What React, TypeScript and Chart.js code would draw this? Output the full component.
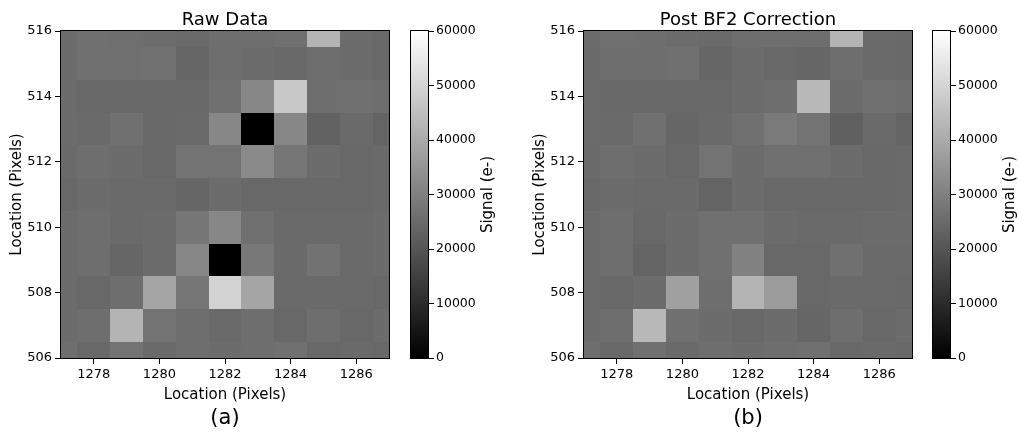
import React, { useEffect, useRef } from "react";
import { Chart, registerables } from "chart.js";

Chart.register(...registerables);

const FONT = '"DejaVu Sans", "Liberation Sans", sans-serif';

// pixel centres (columns left→right, rows top→bottom)
const xPixels = [1277, 1278, 1279, 1280, 1281, 1282, 1283, 1284, 1285, 1286, 1287];
const yPixels = [516, 515, 514, 513, 512, 511, 510, 509, 508, 507, 506];

// Signal (e-), rows 516 → 506
const rawSignal: number[][] = [
  [25400, 26400, 25900, 25400, 24900, 25900, 25900, 26400, 42400, 25400, 24500],
  [25400, 26400, 26100, 26600, 24000, 25900, 25400, 24700, 25900, 25400, 24500],
  [25400, 24500, 24500, 24500, 24500, 26400, 31800, 47100, 25900, 26400, 25900],
  [25400, 24900, 26400, 24500, 24900, 31800, 0, 31800, 23100, 24900, 23500],
  [24900, 25900, 25400, 24500, 27100, 27100, 32500, 27800, 25400, 24500, 24900],
  [24500, 25400, 24900, 24900, 24000, 25400, 24500, 24500, 24500, 24500, 24900],
  [25400, 25900, 24900, 25400, 27800, 31800, 26400, 24900, 24900, 24900, 25400],
  [25400, 25900, 24000, 25400, 31800, 0, 28200, 24900, 26800, 24900, 25400],
  [25400, 24500, 25900, 38800, 27800, 49400, 38800, 24900, 24900, 24900, 24500],
  [25400, 25900, 42400, 27100, 25900, 24900, 25900, 24500, 25900, 24500, 25400],
  [25900, 24500, 27100, 24900, 25900, 25400, 25900, 26400, 24500, 24900, 24500],
];

const correctedSignal: number[][] = [
  [25400, 26400, 25900, 25400, 24900, 25900, 25900, 25900, 42400, 24900, 24500],
  [24900, 25900, 25900, 26400, 24000, 25400, 24500, 24000, 25900, 24900, 24500],
  [25400, 24500, 24500, 24500, 24500, 25400, 25900, 43500, 25400, 26400, 25900],
  [25400, 24900, 26400, 24000, 24900, 26400, 28700, 27100, 22600, 24900, 23500],
  [24900, 25900, 25400, 24500, 27100, 25400, 26400, 26400, 25400, 24500, 24900],
  [24500, 25400, 24900, 24900, 23500, 25400, 24500, 24500, 24500, 24500, 24900],
  [25400, 25900, 24500, 25400, 26400, 26400, 25400, 24900, 24900, 25400, 25400],
  [25400, 25900, 23500, 25400, 26400, 30600, 24500, 24500, 26400, 24900, 24900],
  [25400, 24500, 25400, 37600, 25900, 42400, 36500, 24500, 24900, 24900, 24500],
  [25400, 25900, 43500, 26400, 25400, 24500, 25400, 24000, 25900, 24500, 25400],
  [25900, 24500, 26400, 24900, 25900, 25400, 25900, 26400, 24500, 24900, 24500],
];

const xTicks = [1278, 1280, 1282, 1284, 1286];
const yTicks = [506, 508, 510, 512, 514, 516];
const cbTicks = [0, 10000, 20000, 30000, 40000, 50000, 60000];
const signalRange = [0, 60000];
const xRange = [1277, 1287];
const yRange = [506, 516];

const panelTitles = ["Raw Data", "Post BF2 Correction"];
const panelLetters = ["(a)", "(b)"];
const axisLabel = "Location (Pixels)";
const cbLabel = "Signal (e-)";

function grayOf(v: number) {
  const t = Math.max(0, Math.min(1, (v - signalRange[0]) / (signalRange[1] - signalRange[0])));
  const g = Math.round(t * 255);
  return `rgb(${g},${g},${g})`;
}

function heatPlugin(title: string, letter: string) {
  return {
    id: "heat",
    beforeDatasetsDraw(chart: any) {
      const { ctx, chartArea: a, scales } = chart;
      const x = scales.x, y = scales.y;
      const pts = chart.data.datasets[0].data as any[];
      ctx.save();
      ctx.beginPath();
      ctx.rect(a.left, a.top, a.right - a.left, a.bottom - a.top);
      ctx.clip();
      pts.forEach((p) => {
        const x0 = Math.round(x.getPixelForValue(p.x - 0.5));
        const x1 = Math.round(x.getPixelForValue(p.x + 0.5));
        const y0 = Math.round(y.getPixelForValue(p.y + 0.5));
        const y1 = Math.round(y.getPixelForValue(p.y - 0.5));
        ctx.fillStyle = grayOf(p.v);
        ctx.fillRect(x0, y0, x1 - x0, y1 - y0);
      });
      ctx.restore();
    },
    afterDraw(chart: any) {
      const { ctx, chartArea: a } = chart;
      ctx.save();
      ctx.strokeStyle = "#000";
      ctx.lineWidth = 1;
      ctx.strokeRect(Math.round(a.left) - 0.5, Math.round(a.top) - 0.5, Math.round(a.right - a.left) + 1, Math.round(a.bottom - a.top) + 1);
      ctx.fillStyle = "#000";
      ctx.textAlign = "center";
      ctx.textBaseline = "alphabetic";
      ctx.font = `18px ${FONT}`;
      ctx.fillText(title, (a.left + a.right) / 2, 24.5);
      ctx.font = `21px ${FONT}`;
      ctx.fillText(letter, (a.left + a.right) / 2, 424);
      ctx.restore();
    },
  };
}

function heatConfig(signal: number[][], title: string, letter: string, rightPad: number) {
  const points: any[] = [];
  yPixels.forEach((yv, r) => xPixels.forEach((xv, c) => points.push({ x: xv, y: yv, v: signal[r][c] })));
  const tickFont = { family: FONT, size: 13 };
  const labelFont = { family: FONT, size: 15 };
  return {
    type: "scatter",
    data: { datasets: [{ data: points, pointRadius: 0, pointHoverRadius: 0 }] },
    options: {
      animation: false,
      responsive: false,
      devicePixelRatio: 1,
      events: [],
      layout: { padding: { top: 31, right: rightPad, left: 0, bottom: 0 } },
      plugins: { legend: { display: false }, tooltip: { enabled: false }, title: { display: false } },
      scales: {
        x: {
          type: "linear",
          min: xRange[0],
          max: xRange[1],
          afterFit: (s: any) => { s.height = 76; },
          afterBuildTicks: (s: any) => { s.ticks = xTicks.map((value) => ({ value })); },
          grid: { drawOnChartArea: false, tickLength: 6, color: "#000", tickColor: "#000", lineWidth: 1 },
          border: { display: false },
          ticks: { color: "#000", font: tickFont, padding: 3, maxRotation: 0, callback: (v: any) => String(v) },
          title: { display: true, text: axisLabel, color: "#000", font: labelFont, padding: { top: 0, bottom: 30 } },
        },
        y: {
          type: "linear",
          min: yRange[0],
          max: yRange[1],
          afterFit: (s: any) => { s.width = 61; },
          afterBuildTicks: (s: any) => { s.ticks = yTicks.map((value) => ({ value })); },
          grid: { drawOnChartArea: false, tickLength: 6, color: "#000", tickColor: "#000", lineWidth: 1 },
          border: { display: false },
          ticks: { color: "#000", font: tickFont, padding: 3, callback: (v: any) => String(v) },
          title: { display: true, text: axisLabel, color: "#000", font: labelFont, padding: { top: 8, bottom: 0 } },
        },
      },
    },
    plugins: [heatPlugin(title, letter)],
  } as any;
}

const cbPlugin = {
  id: "colorbar",
  beforeDatasetsDraw(chart: any) {
    const { ctx, chartArea: a, scales } = chart;
    const y = scales.y;
    const yLow = y.getPixelForValue(signalRange[0]);
    const yHigh = y.getPixelForValue(signalRange[1]);
    const grad = ctx.createLinearGradient(0, yLow, 0, yHigh);
    grad.addColorStop(0, grayOf(signalRange[0]));
    grad.addColorStop(1, grayOf(signalRange[1]));
    ctx.save();
    ctx.fillStyle = grad;
    ctx.fillRect(a.left, a.top, a.right - a.left, a.bottom - a.top);
    ctx.strokeStyle = "#000";
    ctx.lineWidth = 1;
    ctx.strokeRect(Math.round(a.left) - 0.5, Math.round(a.top) - 0.5, Math.round(a.right - a.left) + 1, Math.round(a.bottom - a.top) + 1);
    ctx.translate(a.left + 77, (a.top + a.bottom) / 2);
    ctx.rotate(-Math.PI / 2);
    ctx.fillStyle = "#000";
    ctx.font = `15px ${FONT}`;
    ctx.textAlign = "center";
    ctx.textBaseline = "middle";
    ctx.fillText(cbLabel, 0, 0);
    ctx.restore();
  },
};

function cbConfig(width: number) {
  return {
    type: "scatter",
    data: { datasets: [{ data: signalRange.map((v) => ({ x: 0, y: v })), pointRadius: 0, pointHoverRadius: 0 }] },
    options: {
      animation: false,
      responsive: false,
      devicePixelRatio: 1,
      events: [],
      layout: { padding: { top: 31, bottom: 76, left: 11, right: 0 } },
      plugins: { legend: { display: false }, tooltip: { enabled: false }, title: { display: false } },
      scales: {
        x: { type: "linear", display: false, min: 0, max: 1 },
        y: {
          type: "linear",
          position: "right",
          min: signalRange[0],
          max: signalRange[1],
          afterFit: (s: any) => { s.width = width - 28; },
          afterBuildTicks: (s: any) => { s.ticks = cbTicks.map((value) => ({ value })); },
          grid: { drawOnChartArea: false, tickLength: 6, color: "#000", tickColor: "#000", lineWidth: 1 },
          border: { display: false },
          ticks: { color: "#000", font: { family: FONT, size: 12.5 }, padding: 2, callback: (v: any) => String(v) },
        },
      },
    },
    plugins: [cbPlugin],
  } as any;
}

export default function App() {
  const heatA = useRef<HTMLCanvasElement>(null);
  const cbA = useRef<HTMLCanvasElement>(null);
  const heatB = useRef<HTMLCanvasElement>(null);
  const cbB = useRef<HTMLCanvasElement>(null);

  useEffect(() => {
    const charts = [
      new Chart(heatA.current as any, heatConfig(rawSignal, panelTitles[0], panelLetters[0], 11)),
      new Chart(cbA.current as any, cbConfig(100)),
      new Chart(heatB.current as any, heatConfig(correctedSignal, panelTitles[1], panelLetters[1], 10)),
      new Chart(cbB.current as any, cbConfig(97)),
    ];
    return () => charts.forEach((c) => c.destroy());
  }, []);

  const cs = (left: number, width: number): React.CSSProperties => ({
    position: "absolute", left, top: 0, width, height: 434, display: "block",
  });

  return (
    <div style={{ position: "fixed", left: 0, top: 0, width: 1019, height: 434, background: "#fff", overflow: "hidden" }}>
      <canvas ref={heatA} width={400} height={434} style={cs(0, 400)} />
      <canvas ref={cbA} width={100} height={434} style={cs(400, 100)} />
      <canvas ref={heatB} width={399} height={434} style={cs(523, 399)} />
      <canvas ref={cbB} width={97} height={434} style={cs(922, 97)} />
    </div>
  );
}
